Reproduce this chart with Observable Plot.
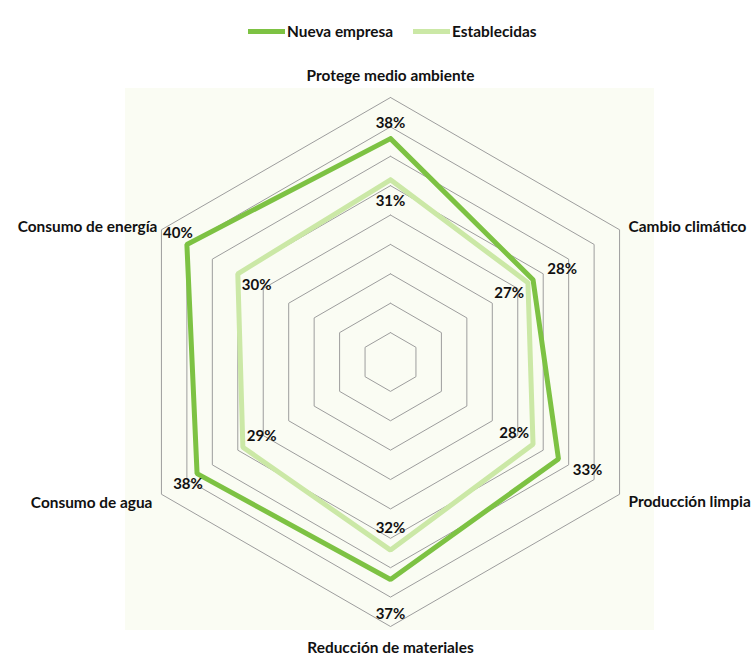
<!DOCTYPE html>
<html>
<head>
<meta charset="utf-8">
<script src="https://cdn.jsdelivr.net/npm/d3@7"></script>
<script src="https://cdn.jsdelivr.net/npm/@observablehq/plot@0.6"></script>
<style>
  html, body { margin: 0; padding: 0; background: #ffffff; }
  #wrap { position: relative; width: 754px; height: 659px; font-family: Lato, "Open Sans", sans-serif; }
  #panel { position: absolute; left: 125px; top: 88px; width: 529px; height: 542px; background: #fafcf3; }
  #chart { position: absolute; left: 0; top: 0; }
  #legend { position: absolute; top: 22px; left: 248px; display: flex; align-items: center; font-weight: 700; font-size: 15.4px; color: #111; }
  .item { display: flex; align-items: center; margin-right: 20px; }
  .sw { width: 37px; height: 5px; margin-right: 2px; }
</style>
</head>
<body>
<div id="wrap">
  <div id="panel"></div>
  <div id="chart"></div>
  <div id="legend"></div>
</div>
<script>
// ---- data ----
const categories = ["Protege medio ambiente", "Cambio climático", "Producción limpia", "Reducción de materiales", "Consumo de agua", "Consumo de energía"];
const seriesNames = ["Nueva empresa", "Establecidas"];
const nuevaEmpresa = [38, 28, 33, 37, 38, 40];
const establecidas = [31, 27, 28, 32, 29, 30];
const gridLevels = [5, 10, 15, 20, 25, 30, 35, 40, 45];
const seriesColors = ["#7dc243", "#cbe8a6"];

// ---- geometry helpers ----
const n = categories.length;
const ang = i => (i * 2 * Math.PI) / n;
const sn = i => Math.round(Math.sin(ang(i)) * 1000) / 1000;
const cs = i => Math.round(Math.cos(ang(i)) * 1000) / 1000;
const px = (r, i) => r * Math.sin(ang(i));
const py = (r, i) => r * Math.cos(ang(i));
const maxR = 45;

// scale: 1% = 264.5/45 px, centre at (390, 361.5)
const k = 264.5 / 45;
const W = 754, H = 659, cx = 390, cy = 361.5;
const FS = 15.4;

// grid rings
const gridPts = [];
for (const lv of gridLevels) {
  for (let i = 0; i <= n; i++) gridPts.push({lv, x: px(lv, i % n), y: py(lv, i % n)});
}

// series
const seriesVals = [nuevaEmpresa, establecidas];
const seriesPts = [];
const labelPts = [];
seriesNames.forEach((s, j) => {
  const vals = seriesVals[j];
  for (let i = 0; i <= n; i++) seriesPts.push({s, x: px(vals[i % n], i % n), y: py(vals[i % n], i % n)});
  vals.forEach((v, i) => {
    let x, y;
    if (j === 0) {
      // outside labels: radial push + small shift (right for side axes, down for vertical ones)
      const side = sn(i) !== 0;
      const push = side ? 22 : 25;
      x = px(v, i) + (sn(i) * push + (side ? 10 : 0)) / k;
      y = py(v, i) + (cs(i) * push - (side ? 0 : 10)) / k;
    } else {
      x = px(v - 3.7, i);
      y = py(v - 3.7, i);
    }
    labelPts.push({s, text: v + "%", x, y});
  });
});

// category labels
const catPts = categories.map((c, i) => ({c, i, x: px(maxR, i), y: py(maxR, i), sx: sn(i), sy: cs(i)}));

const chart = Plot.plot({
  width: W,
  height: H,
  margin: 0,
  style: {background: "transparent", fontFamily: "Lato, 'Open Sans', sans-serif"},
  x: {domain: [-cx / k, (W - cx) / k], range: [0, W], axis: null},
  y: {domain: [-(H - cy) / k, cy / k], range: [H, 0], axis: null},
  color: {domain: seriesNames, range: seriesColors},
  marks: [
    Plot.line(gridPts, {x: "x", y: "y", z: "lv", stroke: "#9d9d9d", strokeWidth: 1}),
    Plot.line(seriesPts, {x: "x", y: "y", z: "s", stroke: "s", strokeWidth: 5, strokeLinejoin: "miter", sort: null, reverse: true}),
    Plot.text(labelPts, {x: "x", y: "y", text: "text", fontSize: 15, fontWeight: 700, fill: "#111"}),
    // top / bottom category labels
    Plot.text(catPts.filter(d => d.sx === 0 && d.sy > 0), {x: "x", y: "y", text: "c", dy: -21, fontSize: FS, fontWeight: 700, fill: "#111"}),
    Plot.text(catPts.filter(d => d.sx === 0 && d.sy < 0), {x: "x", y: "y", text: "c", dy: 22, fontSize: FS, fontWeight: 700, fill: "#111"}),
    // right side
    Plot.text(catPts.filter(d => d.sx > 0 && d.sy > 0), {x: "x", y: "y", text: "c", dx: 9, dy: -3, textAnchor: "start", fontSize: FS, fontWeight: 700, fill: "#111"}),
    Plot.text(catPts.filter(d => d.sx > 0 && d.sy < 0), {x: "x", y: "y", text: "c", dx: 9, dy: 8, textAnchor: "start", fontSize: FS, fontWeight: 700, fill: "#111"}),
    // left side
    Plot.text(catPts.filter(d => d.sx < 0 && d.sy < 0), {x: "x", y: "y", text: "c", dx: -9, dy: 9, textAnchor: "end", fontSize: FS, fontWeight: 700, fill: "#111"}),
    Plot.text(catPts.filter(d => d.sx < 0 && d.sy > 0), {x: "x", y: "y", text: "c", dx: -4, dy: -3, textAnchor: "end", fontSize: FS, fontWeight: 700, fill: "#111"})
  ]
});
document.getElementById("chart").appendChild(chart);

// legend
const lg = document.getElementById("legend");
seriesNames.forEach((s, i) => {
  const it = document.createElement("div");
  it.className = "item";
  const sw = document.createElement("div");
  sw.className = "sw";
  sw.style.background = seriesColors[i];
  const tx = document.createElement("span");
  tx.textContent = s;
  it.appendChild(sw);
  it.appendChild(tx);
  lg.appendChild(it);
});
</script>
</body>
</html>
